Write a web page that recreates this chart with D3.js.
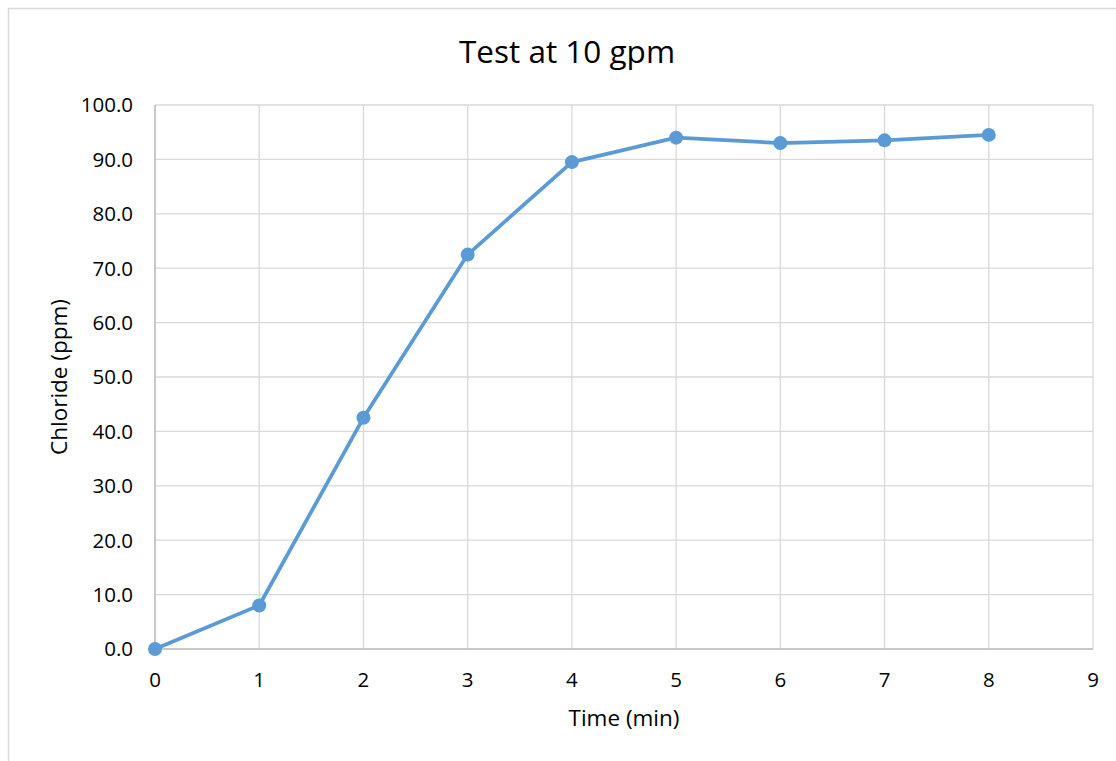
<!DOCTYPE html>
<html>
<head>
<meta charset="utf-8">
<script src="https://cdn.jsdelivr.net/npm/d3@7"></script>
<style>
body{margin:0;background:#fff;}
text{font-family:"Open Sans","Noto Sans",sans-serif;fill:#000;}
</style>
</head>
<body>
<div class="container"></div>
<script>
// chart values
var times = [0, 1, 2, 3, 4, 5, 6, 7, 8];
var chloride = [0.0, 8.0, 42.5, 72.5, 89.5, 94.0, 93.0, 93.5, 94.5];
var xTicks = [0, 1, 2, 3, 4, 5, 6, 7, 8, 9];
var yTicks = [0, 10, 20, 30, 40, 50, 60, 70, 80, 90, 100];
var title = "Test at 10 gpm";
var xTitle = "Time (min)";
var yTitle = "Chloride (ppm)";

var W = 1116, H = 761;
var left = 155, right = 1093, top_ = 105, bottom = 649;

var svg = d3.select(".container").append("svg")
	.attr("width", W).attr("height", H);

// chart frame
svg.append("rect")
	.attr("x", 8.5).attr("y", 8.5)
	.attr("width", W + 10).attr("height", H + 10)
	.attr("fill", "#fff").attr("stroke", "#d9d9d9").attr("stroke-width", 1.5);

var x = d3.scaleLinear().domain([0, 9]).range([left, right]);
var y = d3.scaleLinear().domain([0, 100]).range([bottom, top_]);

// gridlines
svg.append("g").selectAll("line.h").data(yTicks).enter().append("line")
	.attr("x1", left).attr("x2", right)
	.attr("y1", function(d) {return y(d);}).attr("y2", function(d) {return y(d);})
	.attr("stroke", "#d9d9d9").attr("stroke-width", 1.3);
svg.append("g").selectAll("line.v").data(xTicks).enter().append("line")
	.attr("y1", top_).attr("y2", bottom)
	.attr("x1", function(d) {return x(d);}).attr("x2", function(d) {return x(d);})
	.attr("stroke", "#d9d9d9").attr("stroke-width", 1.3);

// axis lines
svg.append("line").attr("x1", left).attr("x2", left).attr("y1", top_).attr("y2", bottom)
	.attr("stroke", "#bfbfbf").attr("stroke-width", 1.5);
svg.append("line").attr("x1", left).attr("x2", right).attr("y1", bottom).attr("y2", bottom)
	.attr("stroke", "#bfbfbf").attr("stroke-width", 1.5);

// tick labels
svg.append("g").selectAll("text").data(yTicks).enter().append("text")
	.attr("x", 133).attr("y", function(d) {return y(d);})
	.attr("dy", "0.36em").attr("text-anchor", "end")
	.style("font-size", "20.5px")
	.text(function(d) {return d3.format(".1f")(d);});
svg.append("g").selectAll("text").data(xTicks).enter().append("text")
	.attr("x", function(d) {return x(d);}).attr("y", 687)
	.attr("text-anchor", "middle")
	.style("font-size", "20.5px")
	.text(function(d) {return d;});

// titles
svg.append("text").attr("x", 567).attr("y", 63)
	.attr("text-anchor", "middle").style("font-size", "31.5px").text(title);
svg.append("text").attr("x", (left + right) / 2).attr("y", 726)
	.attr("text-anchor", "middle").style("font-size", "22.5px").text(xTitle);
svg.append("text")
	.attr("transform", "translate(67,377) rotate(-90)")
	.attr("text-anchor", "middle")
	.style("font-size", "22.5px").text(yTitle);

// series
var pts = times.map(function(t, i) {return [t, chloride[i]];});
var line = d3.line().x(function(d) {return x(d[0]);}).y(function(d) {return y(d[1]);});
svg.append("path").datum(pts).attr("d", line)
	.attr("fill", "none").attr("stroke", "#5b9bd5").attr("stroke-width", 3.75)
	.attr("stroke-linejoin", "round");
svg.append("g").selectAll("circle").data(pts).enter().append("circle")
	.attr("cx", function(d) {return x(d[0]);})
	.attr("cy", function(d) {return y(d[1]);})
	.attr("r", 7).attr("fill", "#5b9bd5");
</script>
</body>
</html>
